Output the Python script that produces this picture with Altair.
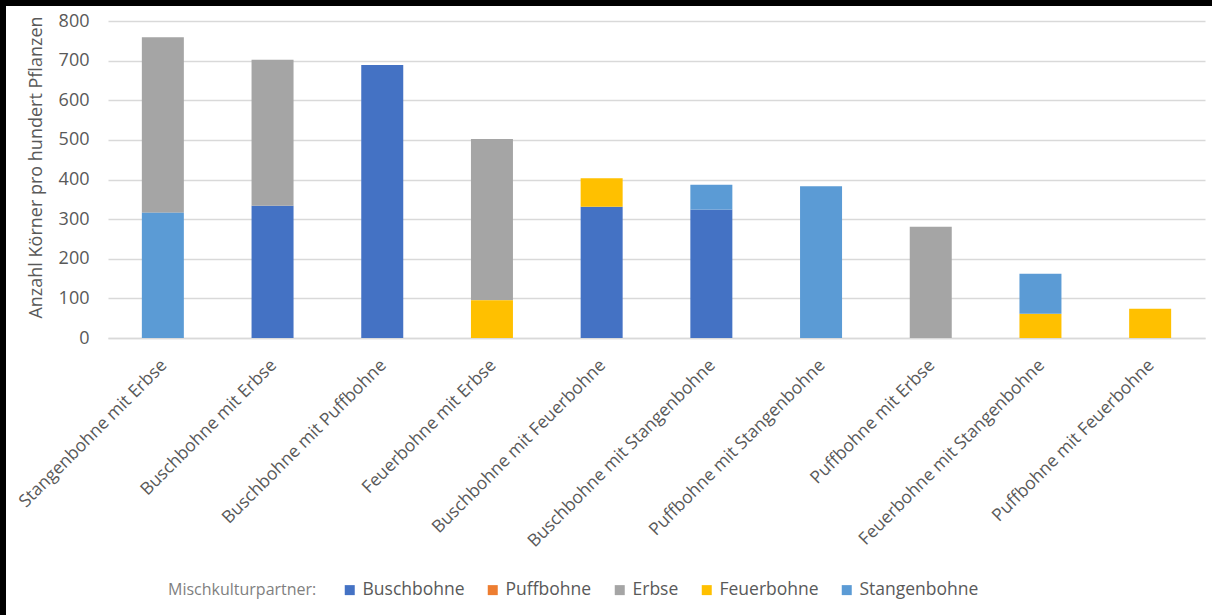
import altair as alt
import pandas as pd

combos = [
    "Stangenbohne mit Erbse",
    "Buschbohne mit Erbse",
    "Buschbohne mit Puffbohne",
    "Feuerbohne mit Erbse",
    "Buschbohne mit Feuerbohne",
    "Buschbohne mit Stangenbohne",
    "Puffbohne mit Stangenbohne",
    "Puffbohne mit Erbse",
    "Feuerbohne mit Stangenbohne",
    "Puffbohne mit Feuerbohne",
]
partners = ["Buschbohne", "Puffbohne", "Erbse", "Feuerbohne", "Stangenbohne"]
colors = ["#4472C4", "#ED7D31", "#A5A5A5", "#FFC000", "#5B9BD5"]

buschbohne = [0, 334, 689, 0, 331, 324, 0, 0, 0, 0]
puffbohne = [0, 0, 0, 0, 0, 0, 0, 0, 0, 0]
erbse = [443, 368, 0, 407, 0, 0, 0, 281, 0, 0]
feuerbohne = [0, 0, 0, 95, 72, 0, 0, 0, 61, 74]
stangenbohne = [316, 0, 0, 0, 0, 63, 383, 0, 101, 0]

stack_order = {"Buschbohne": 0, "Feuerbohne": 1, "Stangenbohne": 2, "Erbse": 3, "Puffbohne": 4}
series = {
    "Buschbohne": buschbohne,
    "Puffbohne": puffbohne,
    "Erbse": erbse,
    "Feuerbohne": feuerbohne,
    "Stangenbohne": stangenbohne,
}

rows = []
for p, vals in series.items():
    for c, v in zip(combos, vals):
        if v > 0:
            rows.append({"Kombination": c, "Partner": p, "Wert": v, "Ordnung": stack_order[p]})
df = pd.DataFrame(rows)

TEXT = "#595959"
FONT = "Open Sans"

bars = alt.Chart(df).mark_bar(size=42).encode(
    x=alt.X(
        "Kombination:N",
        sort=combos,
        title=None,
        axis=alt.Axis(
            labelAngle=-45,
            labelFontSize=17.5,
            labelColor=TEXT,
            labelFont=FONT,
            ticks=False,
            domainColor="#D9D9D9",
            domainWidth=1.3,
            labelPadding=18,
            labelOffset=-5,
            labelLimit=400,
        ),
    ),
    y=alt.Y(
        "Wert:Q",
        scale=alt.Scale(domain=[0, 800], nice=False),
        title="Anzahl  Körner pro hundert Pflanzen",
        axis=alt.Axis(
            values=[0, 100, 200, 300, 400, 500, 600, 700, 800],
            ticks=False,
            domain=False,
            gridColor="#D9D9D9",
            gridWidth=1.3,
            labelFontSize=18,
            labelColor=TEXT,
            labelFont=FONT,
            labelPadding=19,
            titleFontSize=18,
            titleFontWeight="normal",
            titleColor=TEXT,
            titleFont=FONT,
            titleX=-63,
            titleY=146,
            titleAlign="center",
        ),
    ),
    color=alt.Color(
        "Partner:N",
        scale=alt.Scale(domain=partners, range=colors),
        legend=alt.Legend(
            title="Mischkulturpartner:",
            orient="none",
            direction="horizontal",
            legendX=60,
            legendY=560,
            titleOrient="left",
            titleFontSize=16,
            titleFontWeight="normal",
            titleColor="#7F7F7F",
            titleFont=FONT,
            titlePadding=24,
            labelFontSize=17.5,
            labelColor=TEXT,
            labelFont=FONT,
            symbolType="square",
            symbolSize=100,
            symbolStrokeWidth=0,
            columnPadding=19,
            labelOffset=4,
        ),
    ),
    order=alt.Order("Ordnung:Q", sort="ascending"),
)

strip_data = alt.Data(values=[{"k": 1}])
top_strip = alt.Chart(strip_data).mark_rect(color="black").encode(
    x=alt.value(-108), x2=alt.value(1104), y=alt.value(-21), y2=alt.value(-15)
)
left_strip = alt.Chart(strip_data).mark_rect(color="black").encode(
    x=alt.value(-108), x2=alt.value(-102), y=alt.value(-21), y2=alt.value(660)
)

chart = alt.layer(bars, top_strip, left_strip).properties(
    width=1097,
    height=317,
    background="white",
    padding={"left": 108, "top": 21, "right": 7, "bottom": 277},
    autosize=alt.AutoSizeParams(type="none"),
).configure_view(stroke=None)

chart.save("out.html", embed_options={"renderer": "svg", "actions": False})
